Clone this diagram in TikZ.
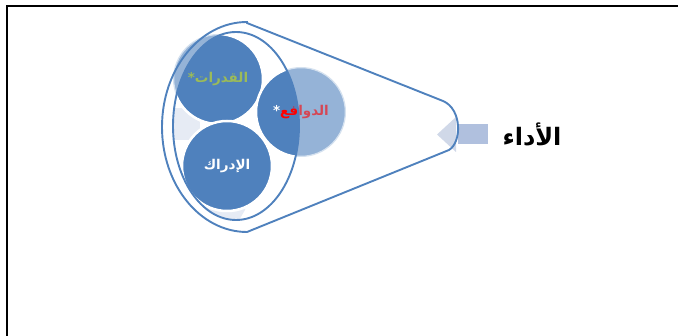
\documentclass[tikz,border=0pt]{standalone}
\usepackage{fontspec}
\TeXXeTstate=1
\newfontfamily\arabicfont[Script=Arabic]{DejaVu Sans}
\definecolor{accblue}{HTML}{4F81BD}
\definecolor{olivetxt}{HTML}{9BBB59}
\definecolor{palefill}{HTML}{E6EBF4}
\definecolor{arrbody}{HTML}{B0C0DE}
\definecolor{arrhead}{HTML}{D0D8E8}
\tikzset{
  ball/.style={circle, minimum size=90pt, inner sep=0pt, draw=white, line width=2.5pt, fill=accblue, font=\arabicfont\bfseries\fontsize{13.5}{15}\selectfont},
  outline/.style={draw=accblue, line width=1.9pt},
  frameline/.style={line width=2pt, draw=black}
}
\newcommand\drawballs{%
  \node[ball, text=olivetxt] (abil) at (218,79) {\beginR القدرات*\endR};
  \node[ball, text=white] (perc) at (227,166) {\raisebox{3pt}{\beginR الإدراك\endR}};
  \node[ball, text=red] (motiv) at (301,112) {\raisebox{2pt}{{\color{white}*}\beginR الدوافع\endR}};
}
\begin{document}
\begin{tikzpicture}[x=1pt,y=-1pt]
\useasboundingbox (0,0) rectangle (678,336);
\draw[frameline] (7,336) -- (7,6) -- (678,6);
% arrow
\fill[arrhead] (456,117) -- (437,134.5) -- (456,152) -- cycle;
\fill[arrbody] (458,124) rectangle (488,144);
% pale reflection
\begin{scope}
  \clip (236,126) ellipse [x radius=63, y radius=94];
  \fill[palefill] (150,108) rectangle (200,140);
  \fill[palefill] (150,195) -- (245,195) -- (245,210) -- (238,222) -- (150,240) -- cycle;
\end{scope}
% circles, translucent outside the inner ellipse
\begin{scope}[opacity=0.6]
  \drawballs
\end{scope}
\begin{scope}
  \clip (236,126) ellipse [x radius=63, y radius=94];
  \drawballs
\end{scope}
% inner ellipse
\draw[outline] (236,126) ellipse [x radius=63, y radius=94];
% funnel
\draw[outline] (247,23) -- (443,101) .. controls (462,109) and (462,142) .. (449,150) -- (247,232)
  arc[start angle=90, end angle=270, x radius=85, y radius=105] -- cycle;
% label
\node[font=\arabicfont\bfseries\fontsize{24}{28}\selectfont, text=black] (perf) at (532,134) {\beginR الأداء\endR};
\end{tikzpicture}
\end{document}
